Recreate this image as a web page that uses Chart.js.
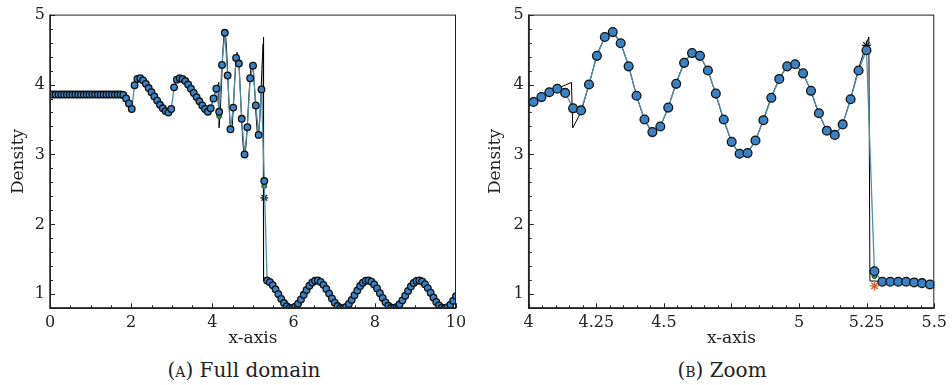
<!DOCTYPE html>
<html>
<head>
<meta charset="utf-8">
<script src="https://cdn.jsdelivr.net/npm/chart.js@4.4.0/dist/chart.umd.min.js"></script>
<style>
  body { margin: 0; background: #fff; width: 952px; height: 385px; position: relative; overflow: hidden;
         font-family: "DejaVu Serif", serif; color: #222; }
  .panel { position: absolute; top: 0; width: 476px; height: 350px; }
  .cap { position: absolute; top: 358px; width: 300px; font-size: 20px; line-height: 24px; text-align: center; }
  .sc { font-variant: small-caps; }
</style>
</head>
<body>
<div class="panel" style="left:0"><canvas id="full" width="476" height="350"></canvas></div>
<div class="panel" style="left:476px"><canvas id="zoom" width="476" height="350"></canvas></div>
<div class="cap" style="left:94px">(<span class="sc">a</span>) Full domain</div>
<div class="cap" style="left:572px">(<span class="sc">b</span>) Zoom</div>

<script>
// full domain: markers on a uniform grid, x = i * fullStep
const fullStep = 10 / 144;
const fullDensity = [
  3.857, 3.857, 3.857, 3.857, 3.857, 3.857, 3.857, 3.857, 3.857, 3.857, 3.857, 3.857, 3.857,
  3.857, 3.857, 3.857, 3.857, 3.857, 3.857, 3.857, 3.857, 3.857, 3.857, 3.857, 3.857, 3.857,
  3.85, 3.80, 3.73, 3.65,
  3.99, 4.08, 4.09, 4.06, 4.01, 3.95, 3.89, 3.83, 3.77, 3.71, 3.66, 3.62, 3.60, 3.65,
  3.96, 4.07, 4.09, 4.08, 4.05, 4.00, 3.94, 3.88, 3.82, 3.76, 3.70, 3.65, 3.61, 3.66,
  3.80, 3.94, 3.61, 4.28, 4.74, 4.13, 3.36, 3.67, 4.38, 4.30, 3.51, 3.00, 3.39, 4.09, 4.27,
  3.70, 3.28, 3.93, 2.62,
  1.197, 1.174, 1.131, 1.071, 1.003, 0.935, 0.875, 0.829, 0.804, 0.802,
  0.824, 0.867, 0.926, 0.993, 1.062, 1.123, 1.169, 1.195, 1.198, 1.177,
  1.135, 1.077, 1.010, 0.941, 0.880, 0.832, 0.805, 0.801, 0.821, 0.862,
  0.920, 0.987, 1.055, 1.118, 1.166, 1.194, 1.199, 1.180, 1.140, 1.083,
  1.016, 0.948, 0.885, 0.836, 0.807, 0.801, 0.818, 0.857, 0.914, 0.980,
  1.049, 1.112, 1.162, 1.192, 1.200, 1.183, 1.145, 1.089, 1.023, 0.954,
  0.891, 0.840, 0.809, 0.800, 0.816, 0.853, 0.908, 0.974
];

// zoom window: finer grid, x = (zoomFirst + k) * zoomStep
const zoomStep = 10 / 341;
const zoomFirst = 136;
const zoomDensity = [
  3.72, 3.75, 3.82, 3.89, 3.94, 3.88, 3.66, 3.63, 4.00, 4.41,
  4.68, 4.75, 4.59, 4.26, 3.84, 3.50, 3.32, 3.40, 3.67, 4.01,
  4.31, 4.45, 4.41, 4.20, 3.87, 3.50, 3.18, 3.01, 3.02, 3.20,
  3.49, 3.81, 4.08, 4.26, 4.29, 4.16, 3.91, 3.59, 3.34, 3.28,
  3.43, 3.79, 4.20, 4.49, 1.33, 1.18, 1.18, 1.18, 1.18, 1.17,
  1.16, 1.14, 1.13
];

// reference solution (thin black line)
const refX = [3.988, 4.018, 4.047, 4.076, 4.106, 4.135, 4.158, 4.163, 4.194, 4.223, 4.252, 4.282,
  4.311, 4.340, 4.370, 4.399, 4.428, 4.457, 4.487, 4.516, 4.545, 4.575, 4.604, 4.633, 4.663, 4.692,
  4.721, 4.751, 4.780, 4.809, 4.839, 4.868, 4.897, 4.927, 4.956, 4.985, 5.015, 5.044, 5.073, 5.103,
  5.132, 5.161, 5.191, 5.220, 5.249, 5.258, 5.262, 5.279, 5.308, 5.337, 5.367, 5.396, 5.425, 5.455,
  5.484, 5.513];
const refY = [3.72, 3.76, 3.83, 3.90, 3.95, 3.99, 4.03, 3.38, 3.61, 4.00, 4.42, 4.69,
  4.76, 4.60, 4.26, 3.84, 3.49, 3.31, 3.40, 3.67, 4.02, 4.32, 4.46, 4.41, 4.20, 3.86,
  3.49, 3.17, 3.00, 3.02, 3.20, 3.50, 3.82, 4.09, 4.27, 4.30, 4.16, 3.90, 3.58, 3.33,
  3.27, 3.43, 3.80, 4.23, 4.58, 4.68, 1.19, 1.19, 1.18, 1.18, 1.18, 1.18, 1.17, 1.16,
  1.14, 1.13];

// other schemes, visible only near the shock
const fullStarX = [5.278], fullStarY = [2.38];
const fullGreenX = [4.167, 5.278], fullGreenY = [3.55, 2.55];
const zoomStarX = [5.249], zoomStarY = [4.56];
const zoomOrangeX = [5.279], zoomOrangeY = [1.12];
const zoomGreenX = [5.279], zoomGreenY = [1.26];

const fullXTicks = [0, 2, 4, 6, 8, 10];
const zoomXTicks = [4, 4.25, 4.5, 4.75, 5, 5.25, 5.5];
const zoomXLabels = ['4', '4.25', '4.5', '', '5', '5.25', '5.5'];
const yTicks = [1, 2, 3, 4, 5];

Chart.defaults.font.family = '"DejaVu Serif", serif';
Chart.defaults.font.size = 16;
Chart.defaults.color = '#222';

const pts = (xs, ys) => xs.map((x, i) => ({ x: x, y: ys[i] }));

// frame + inward tick marks
const frameTicks = {
  id: 'frameTicks',
  afterDatasetsDraw(chart, args, o) {
    const { ctx, chartArea: a } = chart;
    const sx = chart.scales.x, sy = chart.scales.y;
    ctx.save();
    ctx.strokeStyle = '#222';
    ctx.lineWidth = 1;
    ctx.strokeRect(a.left + 0.5, a.top + 0.5, a.width - 1, a.height - 1);
    ctx.lineWidth = 1.5;
    ctx.beginPath();
    ctx.moveTo(a.left, a.top); ctx.lineTo(a.left, a.bottom); ctx.lineTo(a.right, a.bottom);
    ctx.stroke();
    ctx.lineWidth = 1;
    const near = (arr, v) => arr.some(m => Math.abs(m - v) < 1e-6);
    const nx = Math.round((sx.max - sx.min) / o.xMinor);
    for (let k = 0; k <= nx; k++) {
      const v = sx.min + k * o.xMinor;
      const p = Math.round(sx.getPixelForValue(v)) + 0.5;
      const len = near(o.xMajor, v) ? 5 : 3;
      ctx.beginPath(); ctx.moveTo(p, a.bottom); ctx.lineTo(p, a.bottom - len); ctx.stroke();
    }
    const ny = Math.round((5 - 0.8) / 0.2);
    for (let k = 0; k <= ny; k++) {
      const v = 0.8 + k * 0.2;
      const p = Math.round(sy.getPixelForValue(v)) + 0.5;
      const len = near(yTicks, v) ? 5 : 3;
      ctx.beginPath(); ctx.moveTo(a.left, p); ctx.lineTo(a.left + len, p); ctx.stroke();
    }
    ctx.restore();
  }
};

function makeChart(id, c) {
  return new Chart(document.getElementById(id), {
    type: 'scatter',
    data: { datasets: c.datasets },
    options: {
      responsive: false,
      animation: false,
      layout: { padding: { left: 0, right: c.padRight, top: 10.7, bottom: 0 } },
      plugins: {
        legend: { display: false },
        tooltip: { enabled: false },
        frameTicks: { xMajor: c.xTicks, xMinor: c.xMinor }
      },
      scales: {
        x: {
          type: 'linear', min: c.xMin, max: c.xMax,
          grid: { display: false, drawTicks: false },
          border: { display: false },
          ticks: { padding: 5, maxRotation: 0, autoSkip: false, callback: c.xLabel },
          afterBuildTicks: s => { s.ticks = c.xTicks.map(v => ({ value: v })); },
          afterFit: s => { s.height = 41.7; },
          title: { display: true, text: 'x-axis', font: { size: 17 }, padding: { top: 0, bottom: 1 } }
        },
        y: {
          type: 'linear', min: 0.8, max: 5,
          grid: { display: false, drawTicks: false },
          border: { display: false },
          ticks: { padding: 5, callback: v => String(v) },
          afterBuildTicks: s => { s.ticks = yTicks.map(v => ({ value: v })); },
          afterFit: s => { s.width = c.yWidth; },
          title: { display: true, text: 'Density', font: { size: 17 }, padding: { top: c.titlePad, bottom: 0 } }
        }
      }
    },
    plugins: [frameTicks]
  });
}

const markerStyle = r => ({
  showLine: true, clip: 0,
  borderColor: '#4f8fa6', borderWidth: 1.3,
  pointRadius: r, pointStyle: 'circle',
  pointBackgroundColor: '#3a82c4', pointBorderColor: '#111', pointBorderWidth: 1.3
});
const refStyle = { showLine: true, clip: 0, borderColor: '#000', borderWidth: 1, pointRadius: 0 };

makeChart('full', {
  xMin: 0, xMax: 10, xTicks: fullXTicks, xMinor: 0.5,
  xLabel: v => String(v),
  padRight: 20, yWidth: 50, titlePad: 8,
  datasets: [
    Object.assign({ data: fullDensity.map((y, i) => ({ x: i * fullStep, y: y })) }, markerStyle(3.3)),
    { data: pts(fullStarX, fullStarY), clip: 0, pointStyle: 'star', pointRadius: 4,
      pointBorderColor: '#111', pointBorderWidth: 1.2 },
    { data: pts(fullGreenX, fullGreenY), clip: 0, pointRadius: 2.5,
      pointBackgroundColor: '#2e8b3e', pointBorderColor: '#1d5a28', pointBorderWidth: 1 },
    Object.assign({ data: pts(refX, refY) }, refStyle)
  ]
});

makeChart('zoom', {
  xMin: 4, xMax: 5.5, xTicks: zoomXTicks, xMinor: 0.05,
  xLabel: (v, i) => zoomXLabels[i],
  padRight: 17.7, yWidth: 52.7, titlePad: 9,
  datasets: [
    Object.assign({ data: zoomDensity.map((y, k) => ({ x: (zoomFirst + k) * zoomStep, y: y })) }, markerStyle(4.4)),
    { data: pts(zoomStarX, zoomStarY), clip: 0, pointStyle: 'star', pointRadius: 4.5,
      pointBorderColor: '#111', pointBorderWidth: 1.2 },
    { data: pts(zoomOrangeX, zoomOrangeY), clip: 0, pointStyle: 'star', pointRadius: 4.5,
      pointBorderColor: '#d9622b', pointBorderWidth: 1.4 },
    { data: pts(zoomGreenX, zoomGreenY), clip: 0, pointRadius: 2.5,
      pointBackgroundColor: '#2e8b3e', pointBorderColor: '#1d5a28', pointBorderWidth: 1 },
    Object.assign({ data: pts(refX, refY) }, refStyle)
  ]
});
</script>
</body>
</html>
